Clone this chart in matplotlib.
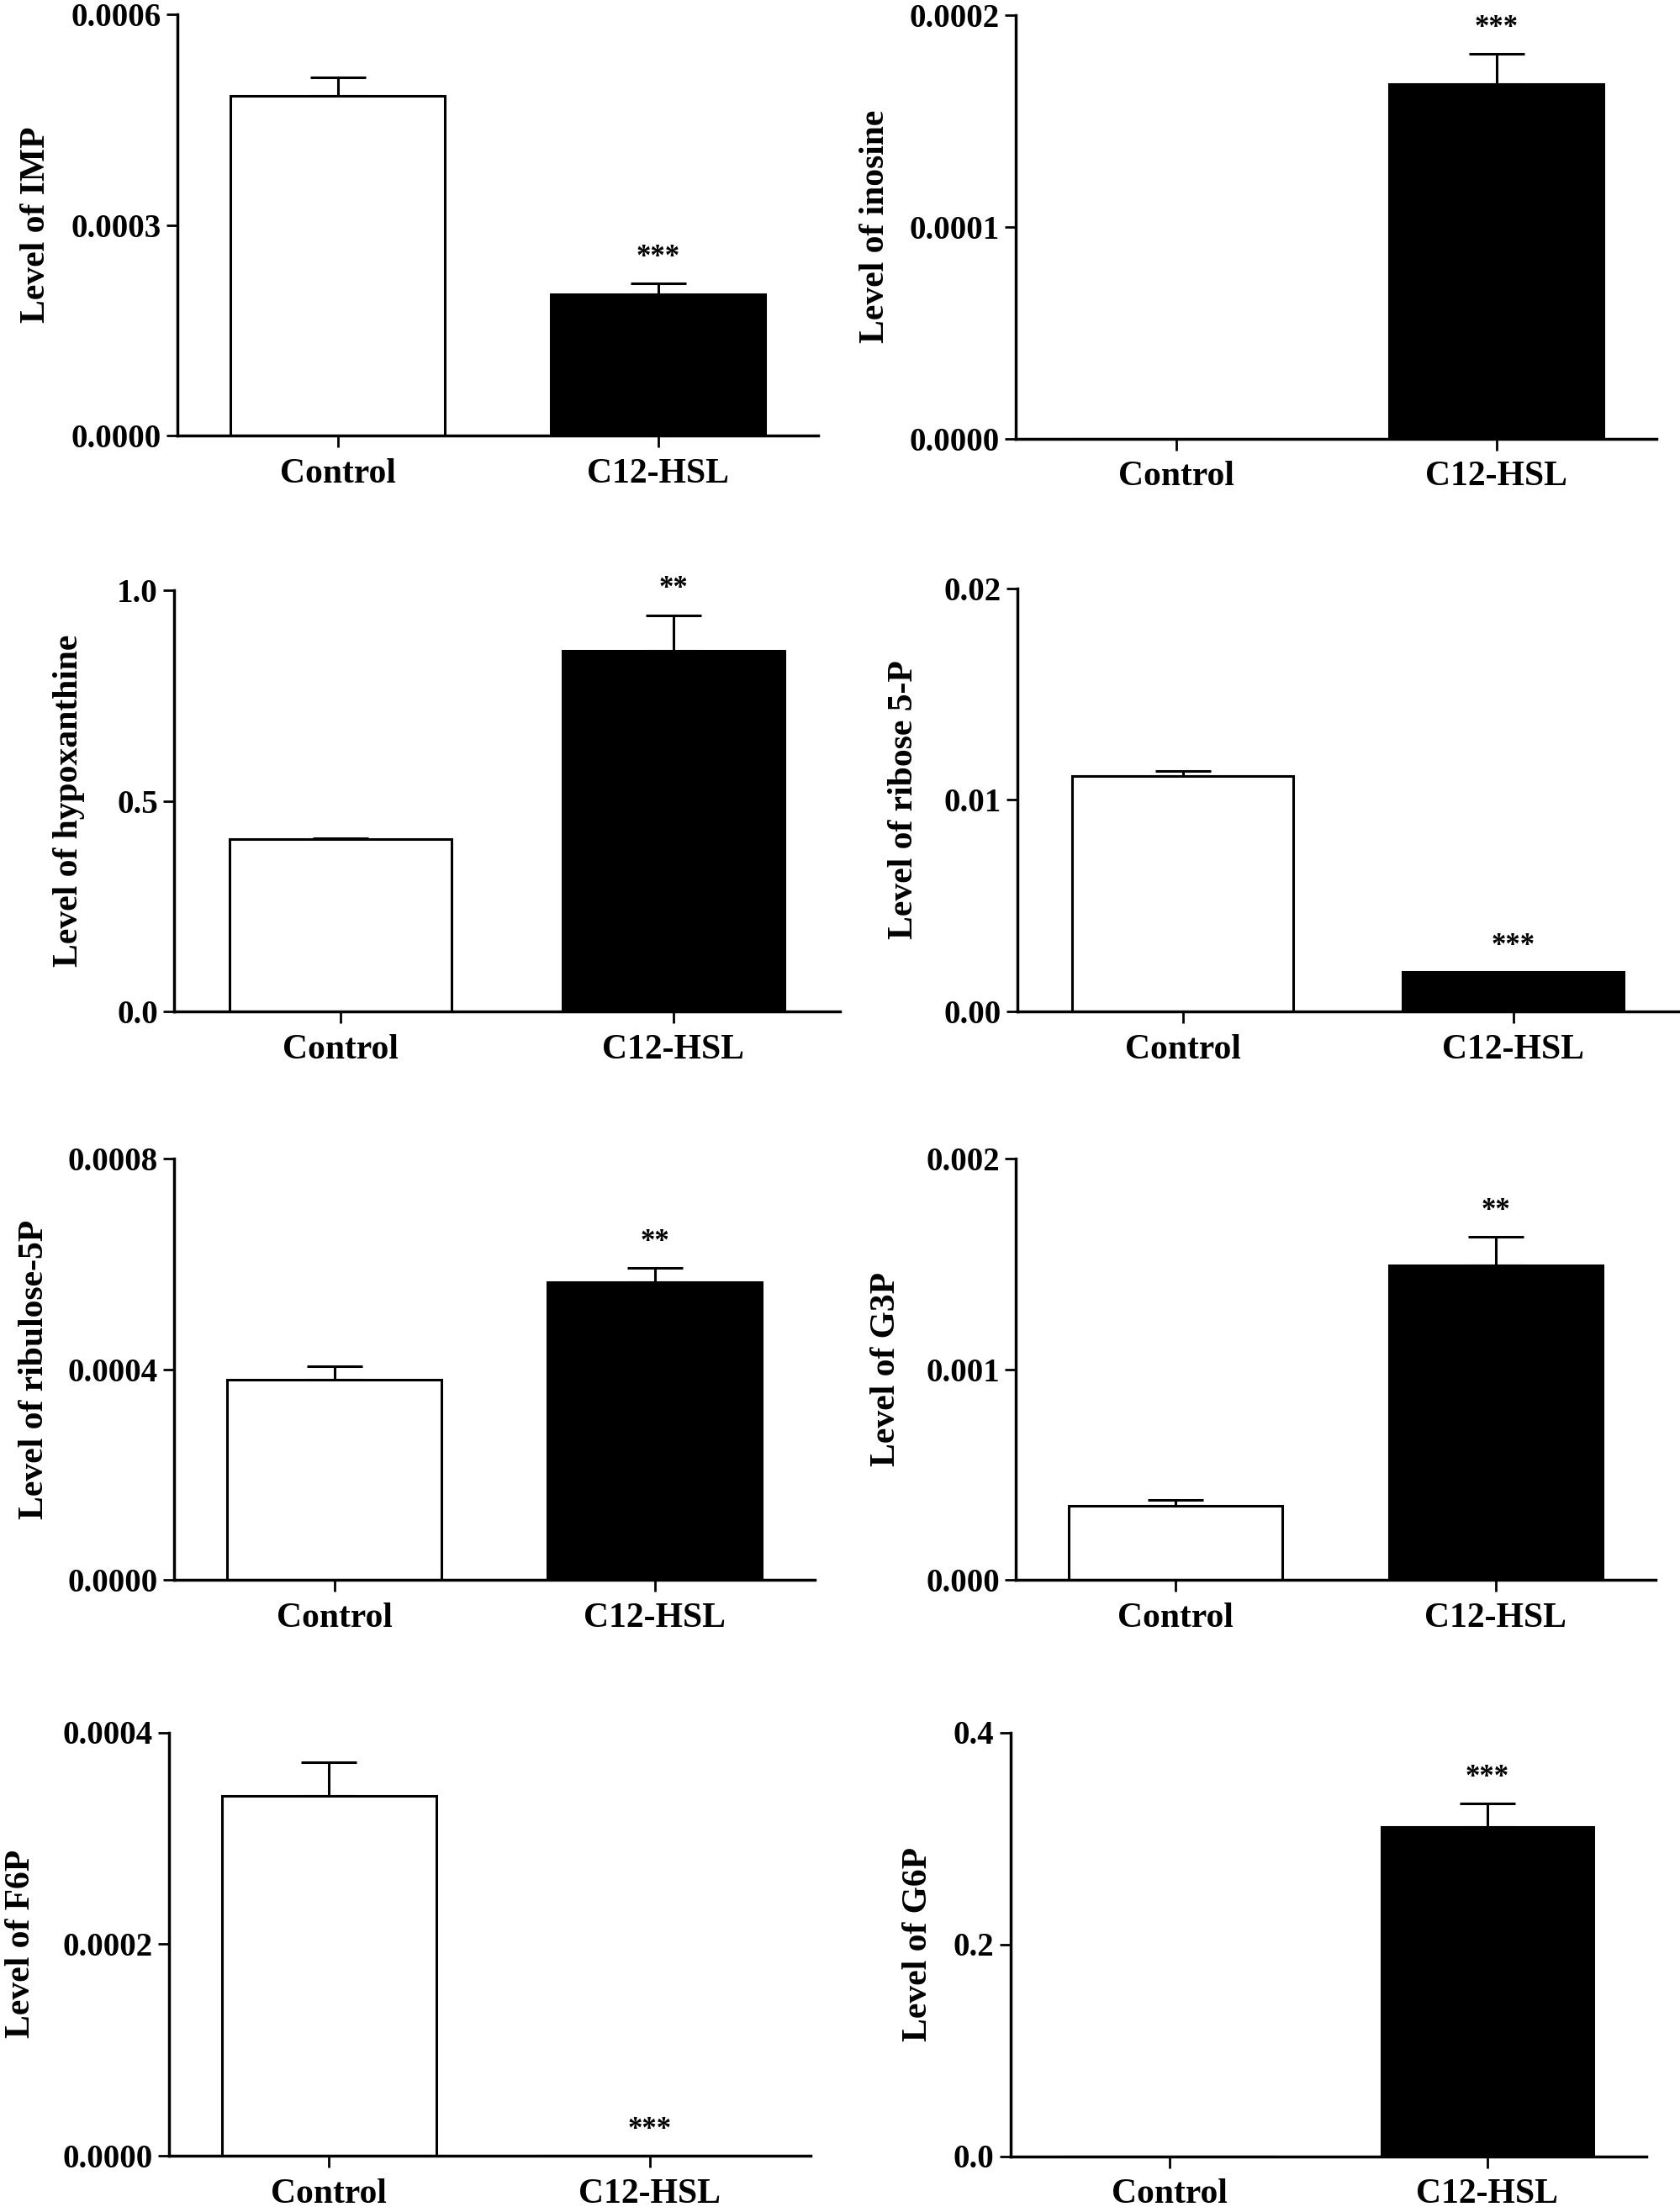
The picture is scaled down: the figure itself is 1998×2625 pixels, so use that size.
import matplotlib
matplotlib.use("Agg")
import matplotlib.pyplot as plt
from matplotlib.ticker import FormatStrFormatter

"""Eight two-bar panels: metabolite levels, Control vs C12-HSL"""

groups = ["Control", "C12-HSL"]

metabolites = ["IMP", "inosine", "hypoxanthine", "ribose 5-P",
               "ribulose-5P", "G3P", "F6P", "G6P"]

control_mean = [0.000484, 0.0, 0.409, 0.01113, 0.000380, 0.000354, 0.000340, 0.0]
control_sem = [0.000026, 0.0, 0.003, 0.00023, 0.000026, 0.000028, 0.000032, 0.0]
c12_mean = [0.000201, 0.0001674, 0.857, 0.00188, 0.000566, 0.001493, 0.0, 0.3107]
c12_sem = [0.000016, 0.0000143, 0.084, 0.0, 0.000026, 0.000134, 0.0, 0.022]

stars = ["***", "***", "**", "***", "**", "**", "***", "***"]

y_max = [0.0006, 0.0002, 1.0, 0.02, 0.0008, 0.002, 0.0004, 0.4]
y_decimals = [4, 4, 1, 2, 4, 3, 4, 1]

# layout in pixels of the 1998 x 2625 canvas: left, right, top, bottom of each plot area
W, H = 1998, 2625
panel_px = [
    (211, 973, 17, 518),
    (1208, 1970, 18, 521.5),
    (207, 999, 702, 1203.4),
    (1210, 1996, 699.5, 1203.4),
    (207, 969, 1377.9, 1879.3),
    (1208, 1969, 1377.9, 1879.3),
    (200.6, 963.5, 2060.5, 2564),
    (1201.5, 1958, 2060.5, 2564.5),
]
# x position (px) of the baseline of each rotated y label
ylabel_px = [53, 1051, 92, 1085, 51, 1064, 35, 1102]

plt.rcParams["font.family"] = ["Liberation Serif", "DejaVu Serif"]
plt.rcParams["font.weight"] = "bold"


def draw_panel(fig, i):
    """draws one bar panel with upward error bars and a star label"""
    left, right, top, bottom = panel_px[i]
    ax = fig.add_axes([left / W, 1 - bottom / H, (right - left) / W, (bottom - top) / H])

    means = [control_mean[i], c12_mean[i]]
    sems = [control_sem[i], c12_sem[i]]
    x = [0, 1]

    ax.bar(x, means, width=0.667, color=["white", "black"],
           edgecolor="black", linewidth=2.2, zorder=2)
    for xi, m, s in zip(x, means, sems):
        if s > 0:
            ax.errorbar(xi, m, yerr=[[0], [s]], fmt="none", ecolor="black",
                        elinewidth=2.2, capsize=23.5, capthick=2.2, zorder=1)

    ax.annotate(stars[i], xy=(1, c12_mean[i] + c12_sem[i]), xytext=(0, 16),
                textcoords="offset points", ha="center", va="baseline",
                fontsize=25, fontweight="bold")

    ax.set_xlim(-0.5, 1.5)
    ax.set_ylim(0, y_max[i])
    ax.set_yticks([0, y_max[i] / 2, y_max[i]])
    ax.yaxis.set_major_formatter(FormatStrFormatter("%%.%df" % y_decimals[i]))
    ax.set_xticks(x)
    ax.set_xticklabels(groups)

    for side in ["top", "right"]:
        ax.spines[side].set_visible(False)
    for side in ["left", "bottom"]:
        ax.spines[side].set_linewidth(2.5)

    ax.tick_params(axis="y", length=9.4, width=2, pad=4.3, labelsize=28)
    ax.tick_params(axis="x", length=10.4, width=2, pad=9, labelsize=30)

    ax.set_ylabel("Level of " + metabolites[i], fontsize=30, fontweight="bold",
                  va="baseline")
    ax.yaxis.set_label_coords((ylabel_px[i] - left) / (right - left), 0.5)
    return ax


fig = plt.figure(figsize=(W / 100, H / 100), dpi=100)
fig.patch.set_facecolor("white")
for k in range(len(metabolites)):
    draw_panel(fig, k)

fig.savefig("out.png", dpi=100)
